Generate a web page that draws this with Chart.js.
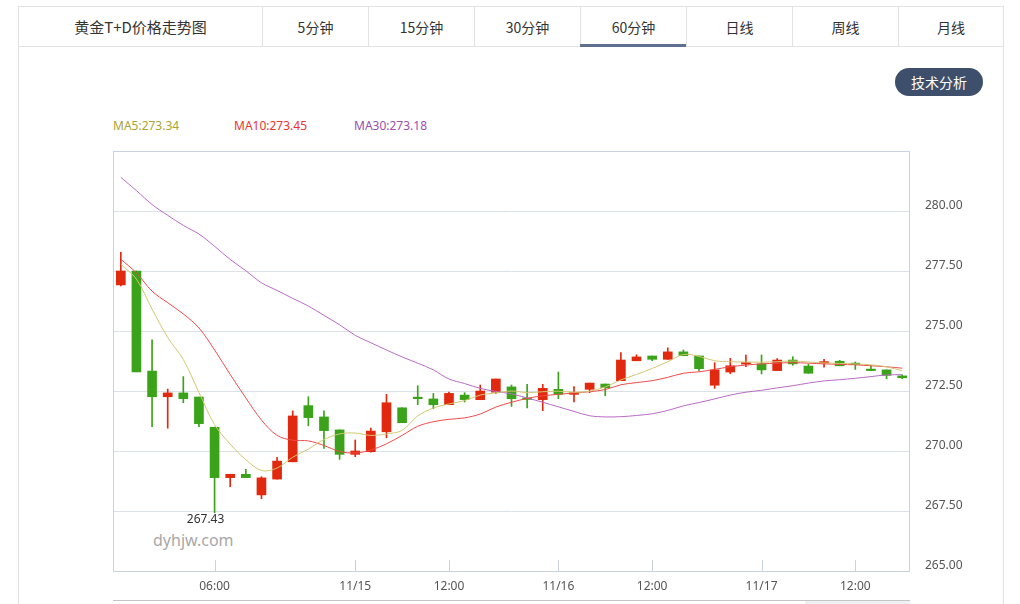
<!DOCTYPE html>
<html><head><meta charset="utf-8">
<script src="https://cdn.jsdelivr.net/npm/chart.js@4.4.0/dist/chart.umd.min.js"></script>
<style>
html,body{margin:0;padding:0;background:#fff;width:1020px;height:604px;overflow:hidden;font-family:"Noto Sans CJK SC","Noto Sans",sans-serif;}
.abs{position:absolute;}
#box{left:18px;top:6px;width:984px;height:700px;border:1px solid #e2e2e2;}
.tab{position:absolute;top:7px;height:40px;line-height:40px;text-align:center;font-size:14px;color:#333;border-right:1px solid #e2e2e2;box-sizing:border-box;}
#tabline{left:19px;top:46px;width:984px;height:1px;background:#e2e2e2;}
#active{left:580px;top:44px;width:106px;height:3px;background:#5e7090;}
#btn{left:895px;top:68px;width:88px;height:28px;border-radius:14px;background:#3e4f6c;color:#fff;font-size:14px;line-height:28px;text-align:center;}
#legend{left:113px;top:117px;height:18px;font-family:"Noto Sans",sans-serif;font-size:12px;line-height:18px;}
#legend span{position:absolute;top:0;white-space:nowrap;}
#wm{left:153px;top:529px;font-family:"Noto Sans",sans-serif;font-size:16px;color:#a8a8a8;}
#nav{left:113px;top:600px;width:797px;height:4px;border-top:1px solid #c4c4c4;}
#navsel{left:805px;top:601px;width:105px;height:3px;background:#eef0f3;}
canvas{position:absolute;left:0;top:0;}
</style></head>
<body>
<div id="box" class="abs"></div>
<div class="tab" style="left:19px;width:244px;font-size:15px;">黄金T+D价格走势图</div>
<div class="tab" style="left:263px;width:106px;">5分钟</div>
<div class="tab" style="left:369px;width:106px;">15分钟</div>
<div class="tab" style="left:475px;width:106px;">30分钟</div>
<div class="tab" style="left:581px;width:106px;">60分钟</div>
<div class="tab" style="left:687px;width:106px;">日线</div>
<div class="tab" style="left:793px;width:106px;">周线</div>
<div class="tab" style="left:899px;width:104px;border-right:none;">月线</div>
<div id="tabline" class="abs"></div>
<div id="active" class="abs"></div>
<div id="btn" class="abs">技术分析</div>
<div id="legend" class="abs">
  <span id="l5" style="left:0;color:#a9a435"></span>
  <span id="l10" style="left:121px;color:#e8352e"></span>
  <span id="l30" style="left:241px;color:#9b4fae"></span>
</div>
<div id="wm" class="abs">dyhjw.com</div>
<div id="nav" class="abs"></div>
<div id="navsel" class="abs"></div>
<canvas id="c" width="1020" height="604"></canvas>
<script>
// ---- data ----
const opens  = [276.92,277.50,273.33,272.26,272.42,272.25,270.99,268.89,269.03,268.17,
                268.83,269.55,271.89,271.42,270.88,269.86,269.97,270.80,271.80,272.22,
                272.17,271.93,272.33,272.14,272.45,272.67,272.20,272.14,272.57,272.36,
                272.57,272.79,272.93,273.76,273.96,273.82,274.13,273.96,272.74,273.29,
                273.62,273.63,273.35,273.79,273.54,273.66,273.74,273.62,273.40,273.38,273.13];
const highs  = [278.28,277.50,274.63,272.58,273.10,272.25,270.99,269.03,269.24,268.93,
                269.74,271.67,272.26,271.67,270.88,270.46,270.95,272.36,271.80,272.72,
                272.40,272.45,272.43,272.75,273.00,272.75,272.78,272.78,273.29,272.68,
                272.83,272.79,274.10,274.01,273.96,274.30,274.21,273.96,273.68,273.86,
                274.00,274.00,273.85,273.93,273.62,273.82,273.78,273.71,273.57,273.38,273.17];
const lows   = [276.88,273.30,271.01,270.95,272.01,271.01,267.43,268.51,268.89,268.01,
                268.83,269.55,271.05,270.11,269.65,269.76,269.95,270.55,271.18,271.93,
                271.76,271.93,272.04,272.14,272.40,271.86,271.80,271.68,272.18,272.05,
                272.43,272.30,272.93,273.76,273.76,273.82,273.97,273.35,272.61,273.22,
                273.51,273.21,273.35,273.57,273.24,273.49,273.55,273.40,273.35,273.01,273.01];
const closes = [277.50,273.30,272.26,272.42,272.18,271.14,268.89,269.03,268.89,268.88,
                269.58,271.46,271.39,270.85,269.86,270.00,270.83,272.01,271.18,272.18,
                271.93,272.40,272.14,272.50,273.00,272.18,272.15,272.61,272.36,272.43,
                272.83,272.64,273.79,273.92,273.82,274.13,273.97,273.43,273.38,273.55,
                273.66,273.38,273.79,273.63,273.24,273.70,273.55,273.60,273.35,273.15,273.05];
const ma5  = [277.78,277.16,275.91,274.73,273.81,272.44,271.10,270.29,269.64,269.19,
              269.29,269.74,270.08,270.48,270.71,270.75,270.65,270.71,270.86,271.46,
              271.79,271.96,272.10,272.33,272.42,272.50,272.43,272.47,272.49,272.45,
              272.49,272.67,272.96,273.19,273.44,273.72,274.02,273.94,273.76,273.72,
              273.71,273.70,273.72,273.75,273.71,273.67,273.65,273.63,273.59,273.51,273.34];
const ma10 = [277.99,277.42,276.66,276.18,275.71,275.13,274.21,273.19,272.21,271.29,
              270.65,270.45,270.42,270.23,269.98,269.92,270.04,270.30,270.65,271.03,
              271.22,271.32,271.38,271.54,271.83,272.03,272.19,272.30,272.36,272.42,
              272.47,272.56,272.76,272.85,272.93,273.07,273.24,273.30,273.40,273.51,
              273.58,273.63,273.66,273.68,273.66,273.63,273.61,273.59,273.55,273.51,273.45];
const ma30 = [281.40,280.85,280.27,279.82,279.40,279.04,278.53,277.98,277.51,277.01,
              276.69,276.36,276.04,275.65,275.26,274.82,274.51,274.21,273.92,273.66,
              273.38,273.00,272.81,272.61,272.48,272.38,272.21,272.03,271.84,271.65,
              271.47,271.42,271.43,271.48,271.55,271.69,271.88,272.02,272.17,272.33,
              272.45,272.53,272.63,272.72,272.83,272.92,272.97,273.03,273.10,273.17,273.18];
const tickIndex = [6, 15, 21, 28, 34, 41, 47];
const tickText  = ['06:00', '11/15', '12:00', '11/16', '12:00', '11/17', '12:00'];
const yMin = 265, yMax = 282.5, yStep = 2.5;
const categories = closes.map((_, i) => String(i + 1));

// ---- styles ----
const UP = '#e0290e', DOWN = '#3aa319';
const colors = closes.map((c, i) => c >= opens[i] ? UP : DOWN);
const BORDER = '#c9d2de';

document.getElementById('l5').textContent  = 'MA5:'  + ma5[ma5.length - 1].toFixed(2);
document.getElementById('l10').textContent = 'MA10:' + ma10[ma10.length - 1].toFixed(2);
document.getElementById('l30').textContent = 'MA30:' + ma30[ma30.length - 1].toFixed(2);

const tickMap = {};
tickIndex.forEach((idx, k) => { tickMap[idx] = tickText[k]; });

const framePlugin = {
  id: 'frame',
  afterDatasetsDraw(chart) {
    const {ctx, chartArea: a, scales} = chart;
    ctx.save();
    ctx.strokeStyle = BORDER;
    ctx.lineWidth = 1;
    ctx.strokeRect(Math.round(a.left) + 0.5, Math.round(a.top) + 0.5,
                   Math.round(a.right - a.left) - 1, Math.round(a.bottom - a.top));
    ctx.beginPath();
    tickIndex.forEach(idx => {
      const x = Math.round(scales.x.getPixelForValue(idx)) + 0.5;
      ctx.moveTo(x, a.bottom - 11);
      ctx.lineTo(x, a.bottom);
    });
    ctx.stroke();
    // lowest point label
    let mi = 0;
    lows.forEach((v, i) => { if (v < lows[mi]) mi = i; });
    const px = scales.x.getPixelForValue(mi);
    const py = scales.y.getPixelForValue(lows[mi]);
    ctx.fillStyle = '#333';
    ctx.font = '12px "Noto Sans", sans-serif';
    ctx.textAlign = 'center';
    ctx.textBaseline = 'top';
    ctx.fillText(lows[mi].toFixed(2), px - 9, py + 1);
    ctx.restore();
  }
};

new Chart(document.getElementById('c'), {
  type: 'bar',
  data: {
    labels: categories,
    datasets: [
      {type: 'line', label: 'MA5', data: ma5, borderColor: '#d2c672', borderWidth: 1,
       pointRadius: 0, tension: 0.35, order: 0},
      {type: 'line', label: 'MA10', data: ma10, borderColor: '#f04a4a', borderWidth: 1,
       pointRadius: 0, tension: 0.35, order: 0},
      {type: 'line', label: 'MA30', data: ma30, borderColor: '#b96ac6', borderWidth: 1,
       pointRadius: 0, tension: 0.35, order: 0},
      {type: 'bar', label: 'body', data: opens.map((o, i) => [o, closes[i]]),
       backgroundColor: colors, barThickness: 9, minBarLength: 1.5, grouped: false, order: 1},
      {type: 'bar', label: 'wick', data: lows.map((l, i) => [l, highs[i]]),
       backgroundColor: colors, barThickness: 1, grouped: false, order: 2}
    ]
  },
  options: {
    responsive: false,
    animation: false,
    devicePixelRatio: 1,
    layout: {padding: {left: 113, top: 151, right: 17, bottom: 0}},
    plugins: {legend: {display: false}, tooltip: {enabled: false}},
    scales: {
      x: {
        type: 'category', offset: true,
        grid: {display: false, drawTicks: false},
        border: {display: false},
        ticks: {
          autoSkip: false, maxRotation: 0, padding: 8, color: '#555',
          font: {size: 12, family: '"Noto Sans", sans-serif'},
          callback: (v, i) => tickMap[i] || ''
        },
        afterFit: s => { s.height = 33; }
      },
      y: {
        position: 'right', min: yMin, max: yMax,
        grid: {color: '#dce1e8', drawTicks: false},
        border: {display: false},
        ticks: {
          stepSize: yStep, padding: 15, labelOffset: -5, color: '#555',
          font: {size: 12, family: '"Noto Sans", sans-serif'},
          callback: v => (v >= yMax ? '' : Number(v).toFixed(2))
        },
        afterFit: s => { s.width = 93; }
      }
    }
  },
  plugins: [framePlugin]
});
</script>
</body></html>
